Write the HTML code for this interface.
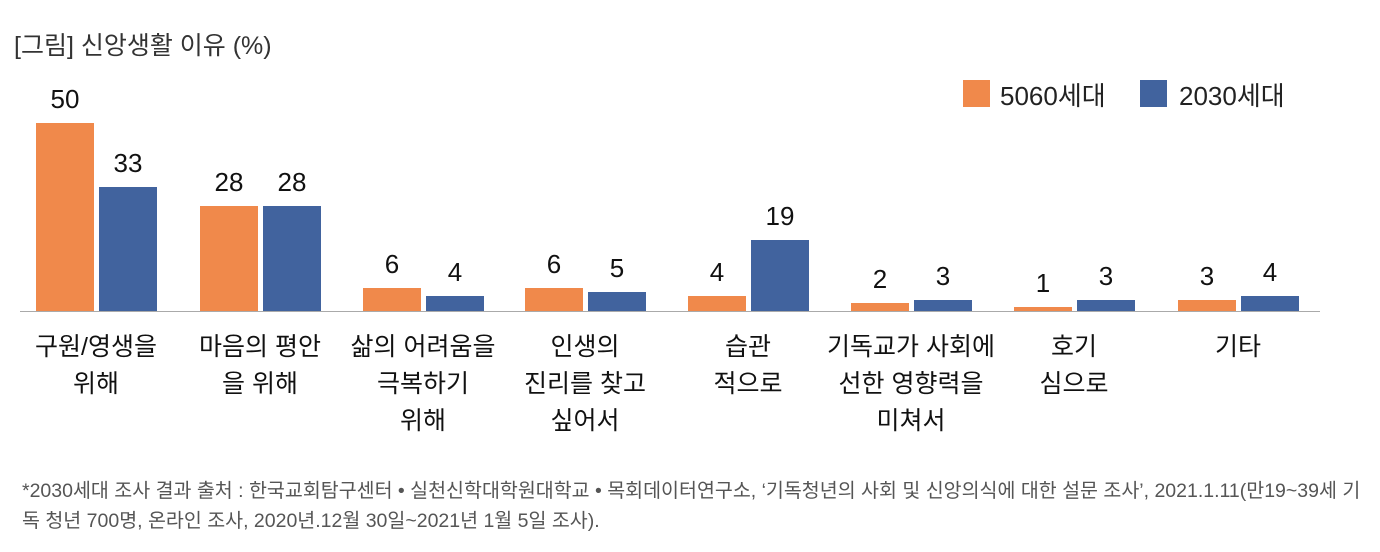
<!DOCTYPE html>
<html><head><meta charset="utf-8"><style>
body{margin:0;width:1380px;height:552px;background:#fff;font-family:"Liberation Sans","Noto Sans CJK KR",sans-serif;overflow:hidden;position:relative;color:#222}
.a{position:absolute;white-space:nowrap}
.bar{position:absolute;width:58px}
.o{background:#F0894B}.b{background:#41639E}
.v{position:absolute;width:80px;text-align:center;font-size:26px;color:#111}
.c{position:absolute;width:220px;text-align:center;font-size:25px;line-height:37px;color:#111}
</style></head><body>
<div class="a" style="left:14px;top:26px;font-size:25px;color:#333">[그림] 신앙생활 이유 (%)</div>
<div class="a" style="left:963px;top:80px;width:27px;height:27px;background:#F0894B"></div>
<div class="a" style="left:1000px;top:76px;font-size:26px">5060세대</div>
<div class="a" style="left:1140px;top:80px;width:27px;height:27px;background:#41639E"></div>
<div class="a" style="left:1179px;top:76px;font-size:26px">2030세대</div>
<div class="a" style="left:20px;top:311px;width:1300px;height:1px;background:#aaa"></div>
<div id="g"></div>
<div class="a" style="left:22px;top:476px;font-size:19.5px;line-height:30px;color:#555">*2030세대 조사 결과 출처 : 한국교회탐구센터 • 실천신학대학원대학교 • 목회데이터연구소, ‘기독청년의 사회 및 신앙의식에 대한 설문 조사’, 2021.1.11(만19~39세 기<br>독 청년 700명, 온라인 조사, 2020년.12월 30일~2021년 1월 5일 조사).</div>
<script>
var d=[[50,33,"구원/영생을<br>위해"],[28,28,"마음의 평안<br>을 위해"],[6,4,"삶의 어려움을<br>극복하기<br>위해"],[6,5,"인생의<br>진리를 찾고<br>싶어서"],[4,19,"습관<br>적으로"],[2,3,"기독교가 사회에<br>선한 영향력을<br>미쳐서"],[1,3,"호기<br>심으로"],[3,4,"기타"]];
var xs=[36,200,363,525,688,851,1014,1178],h="";
d.forEach(function(r,i){var x=xs[i];
[[r[0],x,"o"],[r[1],x+63,"b"]].forEach(function(q){var hh=q[0]*3.76,t=311-hh;
h+='<div class="bar '+q[2]+'" style="left:'+q[1]+'px;top:'+t+'px;height:'+hh+'px"></div>';
h+='<div class="v" style="left:'+(q[1]-11)+'px;top:'+(t-39)+'px">'+q[0]+'</div>';});
h+='<div class="c" style="left:'+(x+60-110)+'px;top:329px">'+r[2]+'</div>';});
document.getElementById("g").innerHTML=h;
</script>
</body></html>
